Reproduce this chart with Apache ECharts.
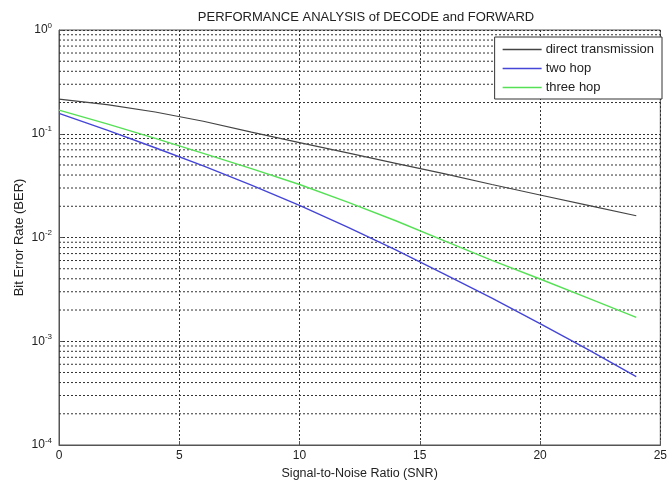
<!DOCTYPE html>
<html><head><meta charset="utf-8">
<script src="https://cdn.jsdelivr.net/npm/echarts@6/dist/echarts.min.js"></script>
<style>html,body{margin:0;padding:0;background:#fff}#c{width:670px;height:487px}</style>
</head><body><div id="c"></div>
<script>
var snr = [0, 2, 4, 6, 8, 10, 12, 14, 16, 18, 20, 22, 24];
var directBER = [0.216, 0.191, 0.162, 0.132, 0.1035, 0.0822, 0.0653, 0.0519, 0.0412, 0.0324, 0.0257, 0.0204, 0.0162];
var twoHopBER = [0.157, 0.1084, 0.0733, 0.049, 0.032, 0.0204, 0.0126, 0.00759, 0.00447, 0.0026, 0.00148, 0.000832, 0.000457];
var threeHopBER = [0.169, 0.1245, 0.0902, 0.0646, 0.0462, 0.0324, 0.0219, 0.0145, 0.00933, 0.00603, 0.00398, 0.0026, 0.0017];
var xTicks = [0, 5, 10, 15, 20, 25];
var yDecades = [-4, -3, -2, -1, 0];
var minorMultipliers = [2, 3, 4, 5, 6, 7, 8, 9];
var seriesNames = ['direct transmission', 'two hop', 'three hop'];
var seriesColors = ['#444444', '#4545d8', '#55e055'];

var FONT = "'Liberation Sans',Arial,sans-serif";
var xMin = xTicks[0], xMax = xTicks[xTicks.length - 1];
var minorValues = [];
yDecades.slice(0, yDecades.length - 1).forEach(function (d) {
  minorMultipliers.forEach(function (m) { minorValues.push(m * Math.pow(10, d)); });
});
function pairs(xs, ys) { return xs.map(function (x, i) { return [x, ys[i]]; }); }

var gridSeries = minorValues.map(function (v) {
  return {
    type: 'line', silent: true, showSymbol: false, z: 1,
    data: [[xMin, v], [xMax, v]],
    lineStyle: { color: '#333', type: [2, 2], width: 1 },
    tooltip: { show: false }
  };
});

var chart = echarts.init(document.getElementById('c'), null, { renderer: 'canvas' });
chart.setOption({
  animation: false,
  backgroundColor: '#fff',
  title: {
    text: 'PERFORMANCE ANALYSIS of DECODE and FORWARD',
    left: 361, top: 6, textAlign: 'center',
    textStyle: { fontFamily: FONT, fontSize: 13, fontWeight: 'normal', color: '#222' }
  },
  grid: { left: 59, right: 4, top: 30, bottom: 42, show: true, borderColor: '#555', borderWidth: 1, backgroundColor: 'transparent' },
  legend: {
    orient: 'vertical', right: 8, top: 37,
    backgroundColor: '#fff', borderColor: '#333', borderWidth: 1, borderRadius: 0,
    padding: [6, 8, 5, 8], itemGap: 6, itemWidth: 39, itemHeight: 14,
    icon: 'path://M0,6.2 L39,6.2 L39,7.8 L0,7.8 Z',
    textStyle: { fontFamily: FONT, fontSize: 13, color: '#222', padding: [0, 0, 0, -1] },
    data: seriesNames.map(function (n, i) { return { name: n, itemStyle: { color: seriesColors[i] } }; })
  },
  xAxis: {
    type: 'value', min: xMin, max: xMax, interval: 5,
    name: 'Signal-to-Noise Ratio (SNR)', nameLocation: 'middle', nameGap: 22,
    nameTextStyle: { fontFamily: FONT, fontSize: 12.5, color: '#222' },
    axisLine: { show: true, lineStyle: { color: '#555' } },
    axisTick: { show: true, inside: true, length: 4, lineStyle: { color: '#555' } },
    axisLabel: { fontFamily: FONT, fontSize: 12, color: '#222', margin: 5 },
    splitLine: { show: true, lineStyle: { color: '#333', type: [2, 2], width: 1 } }
  },
  yAxis: {
    type: 'log', logBase: 10, min: Math.pow(10, yDecades[0]), max: Math.pow(10, yDecades[yDecades.length - 1]),
    name: 'Bit Error Rate (BER)', nameLocation: 'middle', nameGap: 33, nameMoveOverlap: false,
    nameTextStyle: { fontFamily: FONT, fontSize: 13, color: '#222' },
    axisLine: { show: true, lineStyle: { color: '#555' } },
    axisTick: { show: true, inside: true, length: 4, lineStyle: { color: '#555' } },
    axisLabel: {
      margin: 7,
      formatter: function (v) { var e = Math.round(Math.log10(v)); return '{b|10}{s|' + e + '}'; },
      rich: {
        b: { fontFamily: FONT, fontSize: 12, color: '#222' },
        s: { fontFamily: FONT, fontSize: 8, color: '#222', padding: [0, 0, 9, 0] }
      }
    },
    splitLine: { show: true, lineStyle: { color: '#333', type: [2, 2], width: 1 } }
  },
  series: gridSeries.concat([
    { name: seriesNames[0], type: 'line', data: pairs(snr, directBER), showSymbol: false,
      lineStyle: { color: seriesColors[0], width: 1.2 }, itemStyle: { color: seriesColors[0] }, z: 5 },
    { name: seriesNames[1], type: 'line', data: pairs(snr, twoHopBER), showSymbol: false,
      lineStyle: { color: seriesColors[1], width: 1.4 }, itemStyle: { color: seriesColors[1] }, z: 5 },
    { name: seriesNames[2], type: 'line', data: pairs(snr, threeHopBER), showSymbol: false,
      lineStyle: { color: seriesColors[2], width: 1.4 }, itemStyle: { color: seriesColors[2] }, z: 5 }
  ])
});
</script></body></html>
